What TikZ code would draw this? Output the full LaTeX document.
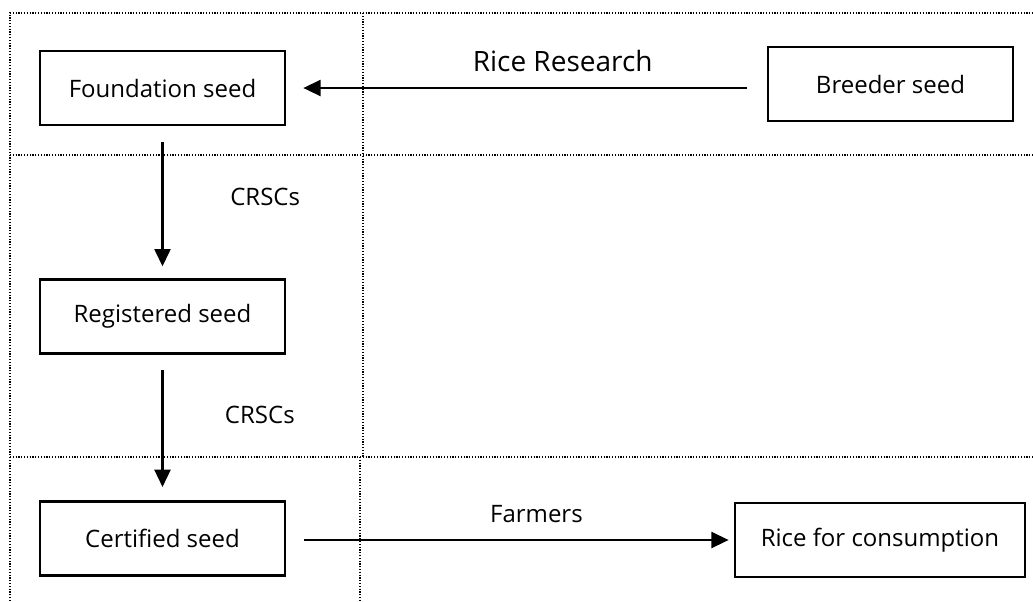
\documentclass[tikz,border=0pt]{standalone}
\usepackage{fontspec}
\setmainfont{Open Sans}
\usetikzlibrary{positioning}
\usetikzlibrary{calc}
\usetikzlibrary{arrows.meta}
\tikzset{x=0.75pt,y=-0.75pt,
    seedbox/.style={
        draw,
        line width=2pt,
        minimum width=183.75pt,
        minimum height=55.5pt,
        font=\fontsize{18}{22}\selectfont},
    flowlabel/.style={
        font=\fontsize{18}{22}\selectfont},
    gridline/.style={
        line width=0.9pt,
        dash pattern=on 0.9pt off 1.2pt},
    every edge/.style={
        draw,
        -{Triangle[length=13pt,width=12pt]},
        line width=1.8pt}}

\begin{document}
\begin{tikzpicture}
        \useasboundingbox (0,0) rectangle (1033,601);

        % dotted frame
        \draw[gridline] (10,601) -- (10,13) -- (1033,13);
        \draw[gridline] (10,155) -- (1033,155);
        \draw[gridline] (10,457) -- (1033,457);
        \draw[gridline] (363,13) -- (363,457);
        \draw[gridline] (360,457) -- (360,601);

        \node[seedbox] (found) at (162.5,88) {Foundation seed};
        \node[seedbox] (breeder) at (890.5,84) {Breeder seed};
        \node[seedbox,below=114pt of found] (reg) {Registered seed};
        \node[seedbox,below=108.75pt of reg] (cert) {Certified seed};
        \node[seedbox,minimum width=217.5pt] (rice) at (880,540) {Rice for consumption};

        \draw ($(breeder.west |- found)+(-20,0)$) edge node[flowlabel,pos=.415,yshift=20pt,font=\fontsize{21}{24}\selectfont] {Rice Research} ($(found.east)+(17,0)$);
        \draw ($(found.south)+(0,16)$) edge node[flowlabel,pos=.44,xshift=77pt] {CRSCs} ($(reg.north)+(0,-12)$);
        \draw ($(reg.south)+(0,15)$) edge node[flowlabel,pos=.385,xshift=73pt] {CRSCs} ($(cert.north)+(0,-13)$);
        \draw ($(cert.east |- rice)+(18,0)$) edge node[flowlabel,pos=.547,yshift=19.5pt] {Farmers} ($(rice.west)+(-5,0)$);
    \end{tikzpicture}
\end{document}
